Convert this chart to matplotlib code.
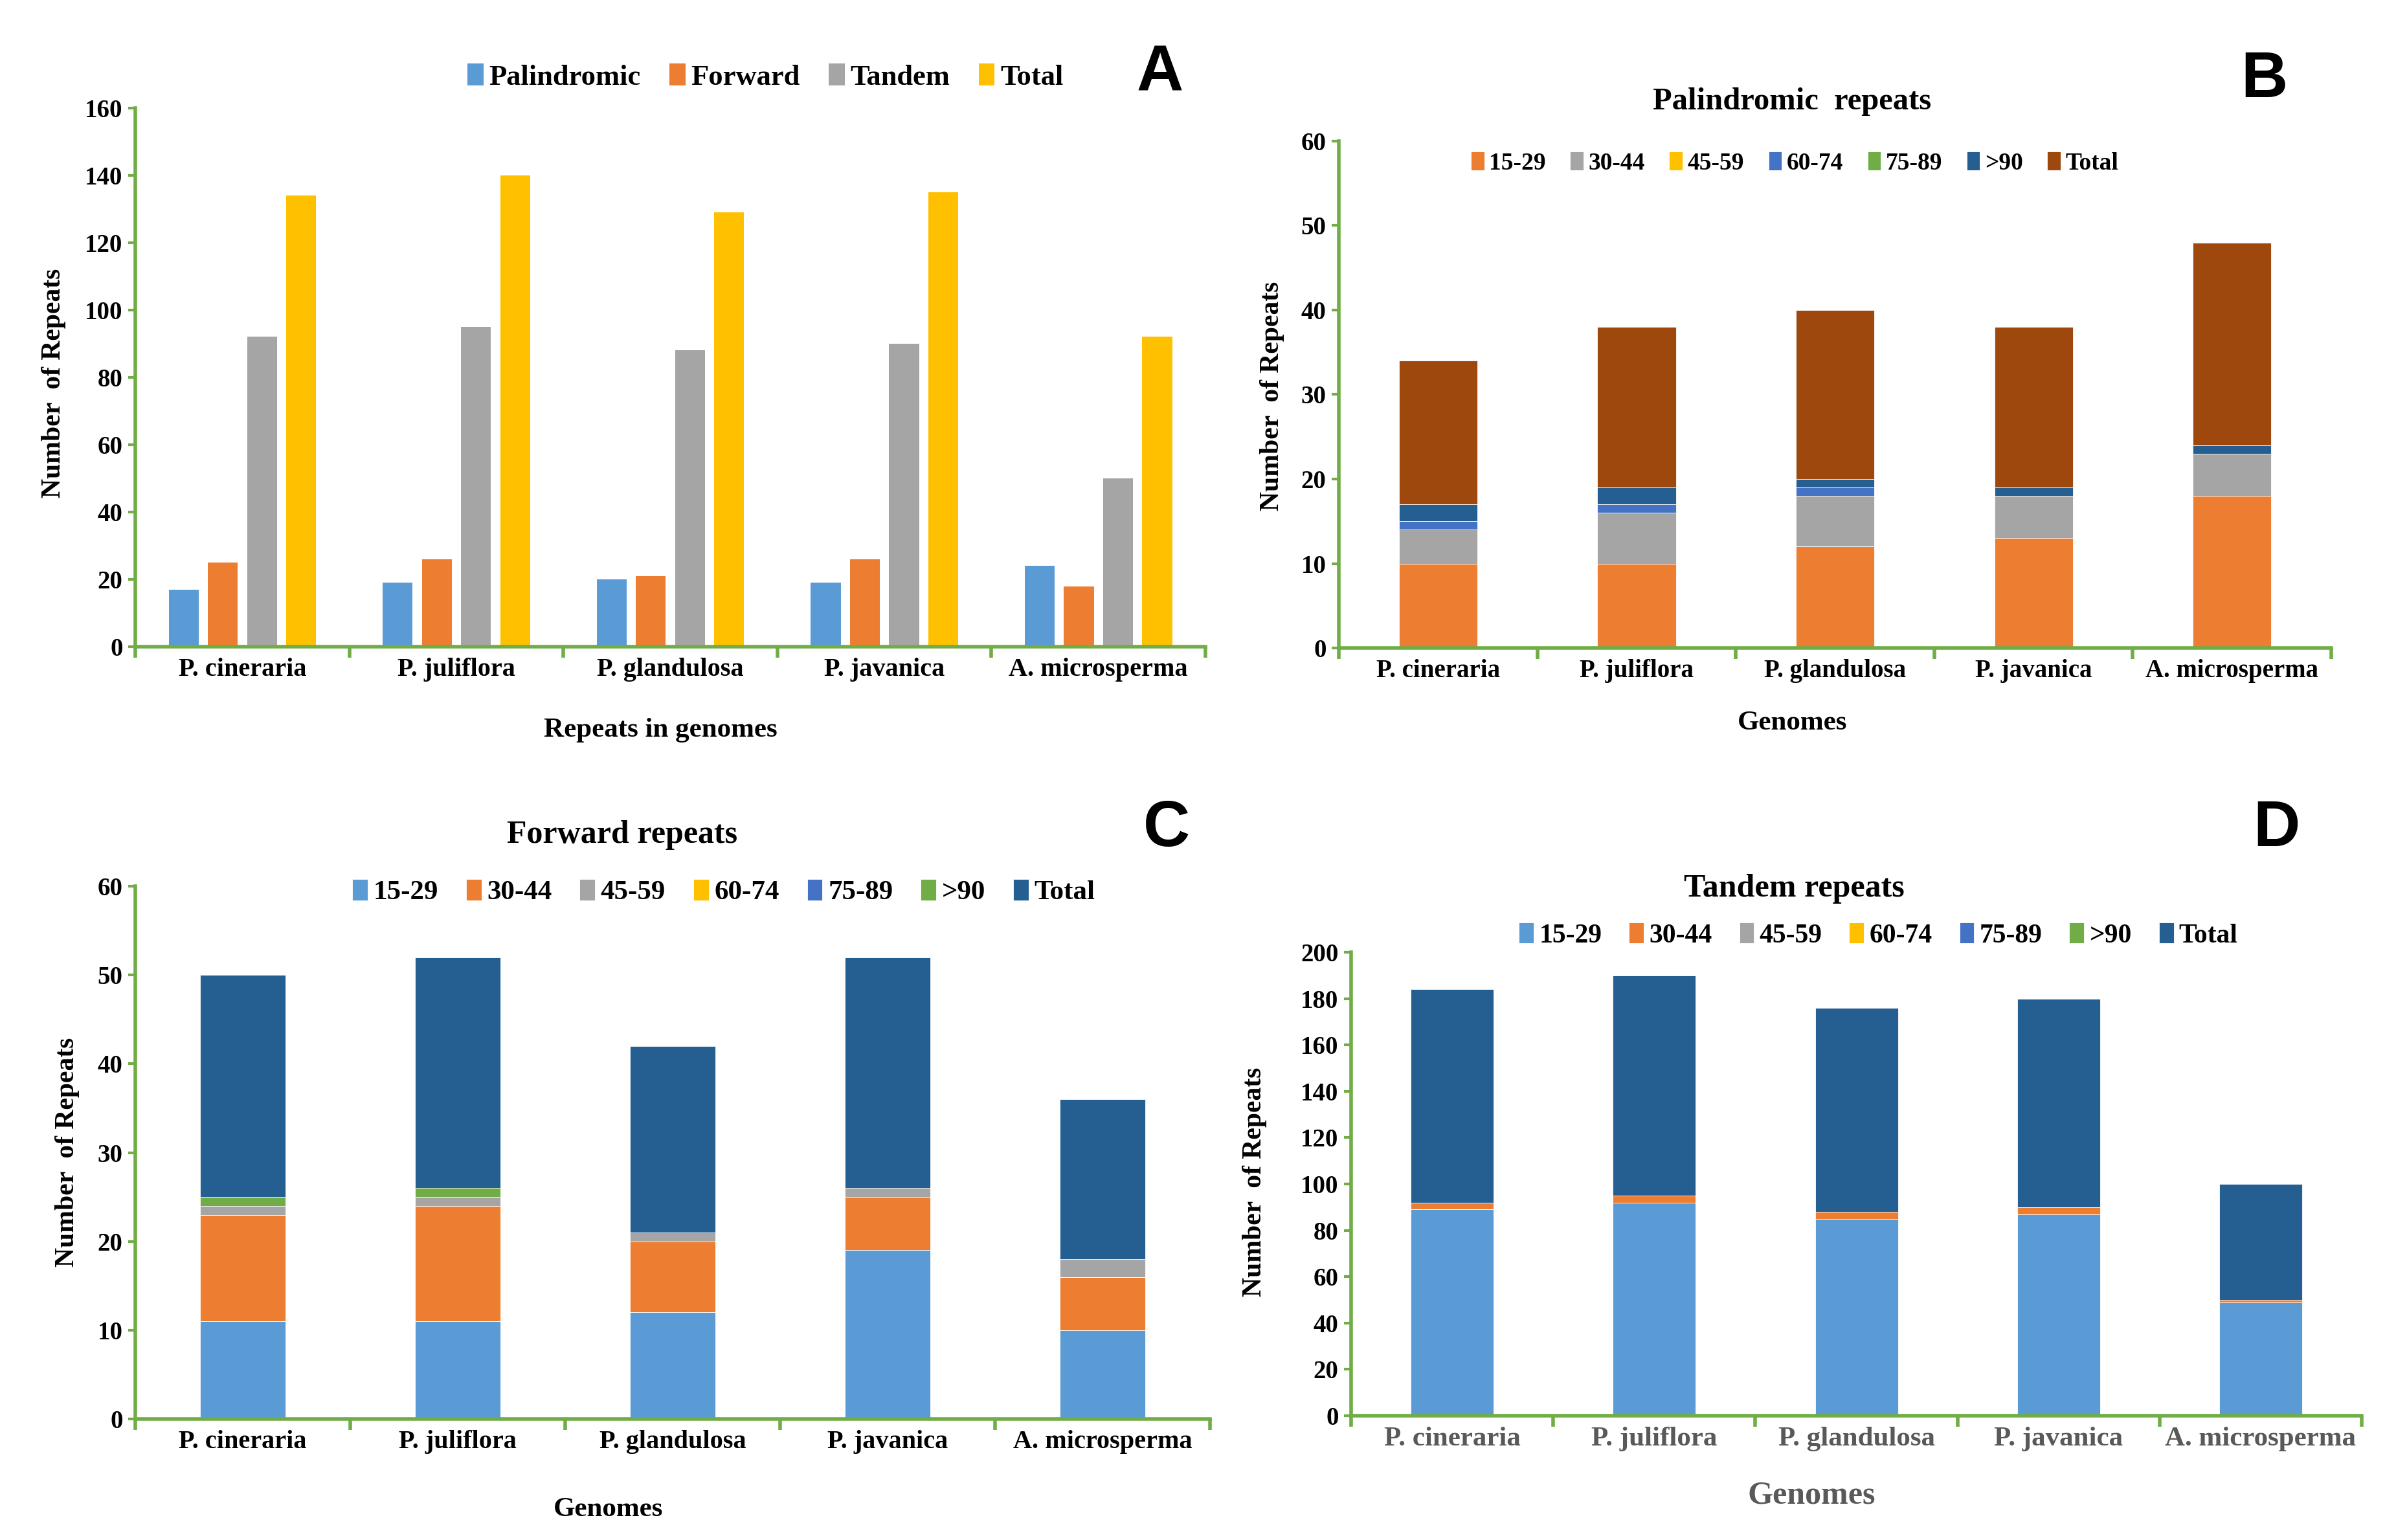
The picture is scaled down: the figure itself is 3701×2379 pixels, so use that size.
import numpy as np
import matplotlib
matplotlib.use("Agg")
import matplotlib.pyplot as plt

plt.rcParams['font.family'] = ['Liberation Serif', 'DejaVu Serif']
plt.rcParams['font.weight'] = 'bold'

# data
genomes = ['P. cineraria', 'P. juliflora', 'P. glandulosa', 'P. javanica', 'A. microsperma']

# panel A
palindromic = [17, 19, 20, 19, 24]
forward = [25, 26, 21, 26, 18]
tandem = [92, 95, 88, 90, 50]
total = [134, 140, 129, 135, 92]

size_classes = ['15-29', '30-44', '45-59', '60-74', '75-89', '>90', 'Total']

# panel B, palindromic repeats per size class
pal_15_29 = [10, 10, 12, 13, 18]
pal_30_44 = [4, 6, 6, 5, 5]
pal_45_59 = [0, 0, 0, 0, 0]
pal_60_74 = [1, 1, 1, 0, 0]
pal_75_89 = [0, 0, 0, 0, 0]
pal_90 = [2, 2, 1, 1, 1]
pal_total = [17, 19, 20, 19, 24]

# panel C, forward repeats
fwd_15_29 = [11, 11, 12, 19, 10]
fwd_30_44 = [12, 13, 8, 6, 6]
fwd_45_59 = [1, 1, 1, 1, 2]
fwd_60_74 = [0, 0, 0, 0, 0]
fwd_75_89 = [0, 0, 0, 0, 0]
fwd_90 = [1, 1, 0, 0, 0]
fwd_total = [25, 26, 21, 26, 18]

# panel D, tandem repeats
tan_15_29 = [89, 92, 85, 87, 49]
tan_30_44 = [3, 3, 3, 3, 1]
tan_45_59 = [0, 0, 0, 0, 0]
tan_60_74 = [0, 0, 0, 0, 0]
tan_75_89 = [0, 0, 0, 0, 0]
tan_90 = [0, 0, 0, 0, 0]
tan_total = [92, 95, 88, 90, 50]

# office colours
c_blue = '#5B9BD5'
c_orange = '#ED7D31'
c_gray = '#A5A5A5'
c_gold = '#FFC000'
c_blue2 = '#4472C4'
c_green = '#70AD47'
c_navy = '#255E91'
c_brown = '#9E480E'
spine_green = '#70AD47'

W, H = 3701, 2379
fig = plt.figure(figsize=(W / 100, H / 100), dpi=100)


def style_axes(ax, ymax, ystep, xfs=28, tick_color='black'):
    for s in ['top', 'right']:
        ax.spines[s].set_visible(False)
    for s in ['left', 'bottom']:
        ax.spines[s].set_color(spine_green)
        ax.spines[s].set_linewidth(4)
    ax.set_xlim(-0.5, 4.5)
    ax.set_ylim(0, ymax)
    ax.set_yticks(np.arange(0, ymax + 1, ystep))
    ax.set_xticks(range(5))
    ax.set_xticklabels(genomes, fontsize=xfs, fontweight='bold', color=tick_color)
    ax.set_xticks(np.arange(-0.5, 5, 1), minor=True)
    ax.tick_params(axis='x', which='major', length=0, pad=12)
    ax.tick_params(axis='x', which='minor', length=12, width=4, color=spine_green, direction='out')
    ax.tick_params(axis='y', length=8, width=3, color=spine_green, labelsize=28, pad=6)
    for lab in ax.get_yticklabels():
        lab.set_fontweight('bold')


def stacked(ax, series, colors, width):
    x = np.arange(len(genomes))
    bottom = np.zeros(len(genomes))
    for name, vals, col in zip(size_classes, series, colors):
        ax.bar(x, vals, width, bottom=bottom, color=col, label=name,
               edgecolor='white', linewidth=0.6)
        bottom += np.array(vals)


def add_legend(ax, fx, fy, ncol, fs):
    ax.legend(loc='center', bbox_to_anchor=(fx, fy), bbox_transform=fig.transFigure,
              ncol=ncol, frameon=False, handlelength=0.55, handleheight=0.8,
              handletextpad=0.2, columnspacing=1.0, prop={'weight': 'bold', 'size': fs})


# ---- A: grouped bars
axA = fig.add_axes([0.0565, 0.580, 0.4466, 0.350])
x = np.arange(len(genomes))
bw = 0.14
step = 0.183
for i, (name, vals, col) in enumerate(zip(['Palindromic', 'Forward', 'Tandem', 'Total'],
                                           [palindromic, forward, tandem, total],
                                           [c_blue, c_orange, c_gray, c_gold])):
    axA.bar(x + (i - 1.5) * step, vals, bw, color=col, label=name)
style_axes(axA, 160, 20, xfs=29)
add_legend(axA, 0.3195, 0.950, 4, 32)
fig.text(0.2756, 0.526, 'Repeats in genomes', ha='center', va='center', fontsize=31, fontweight='bold')
fig.text(0.0224, 0.751, 'Number  of Repeats', rotation=90, ha='center', va='center', fontsize=30, fontweight='bold')
fig.text(0.484, 0.952, 'A', ha='center', va='center', fontsize=72, fontweight='bold', family='Liberation Sans')

# ---- B: palindromic
axB = fig.add_axes([0.5588, 0.5792, 0.4142, 0.3292])
stacked(axB, [pal_15_29, pal_30_44, pal_45_59, pal_60_74, pal_75_89, pal_90, pal_total],
        [c_orange, c_gray, c_gold, c_blue2, c_green, c_navy, c_brown], 0.395)
style_axes(axB, 60, 10, xfs=28)
add_legend(axB, 0.749, 0.894, 7, 27)
fig.text(0.748, 0.934, 'Palindromic  repeats', ha='center', va='center', fontsize=35, fontweight='bold')
fig.text(0.748, 0.5305, 'Genomes', ha='center', va='center', fontsize=31, fontweight='bold')
fig.text(0.531, 0.743, 'Number  of Repeats', rotation=90, ha='center', va='center', fontsize=30, fontweight='bold')
fig.text(0.945, 0.948, 'B', ha='center', va='center', fontsize=72, fontweight='bold', family='Liberation Sans')

# ---- C: forward
axC = fig.add_axes([0.0565, 0.0786, 0.4485, 0.3459])
stacked(axC, [fwd_15_29, fwd_30_44, fwd_45_59, fwd_60_74, fwd_75_89, fwd_90, fwd_total],
        [c_blue, c_orange, c_gray, c_gold, c_blue2, c_green, c_navy], 0.40)
style_axes(axC, 60, 10, xfs=29)
add_legend(axC, 0.302, 0.4207, 7, 31)
fig.text(0.2597, 0.4578, 'Forward repeats', ha='center', va='center', fontsize=36, fontweight='bold')
fig.text(0.2538, 0.0198, 'Genomes', ha='center', va='center', fontsize=31, fontweight='bold')
fig.text(0.028, 0.252, 'Number  of Repeats', rotation=90, ha='center', va='center', fontsize=30, fontweight='bold')
fig.text(0.487, 0.4615, 'C', ha='center', va='center', fontsize=72, fontweight='bold', family='Liberation Sans')

# ---- D: tandem
axD = fig.add_axes([0.5639, 0.0807, 0.4218, 0.3010])
stacked(axD, [tan_15_29, tan_30_44, tan_45_59, tan_60_74, tan_75_89, tan_90, tan_total],
        [c_blue, c_orange, c_gray, c_gold, c_blue2, c_green, c_navy], 0.41)
style_axes(axD, 200, 20, xfs=31, tick_color='#595959')
add_legend(axD, 0.784, 0.3926, 7, 30)
fig.text(0.7487, 0.4229, 'Tandem repeats', ha='center', va='center', fontsize=36, fontweight='bold')
fig.text(0.756, 0.029, 'Genomes', ha='center', va='center', fontsize=36, fontweight='bold', color='#595959')
fig.text(0.5236, 0.2323, 'Number  of Repeats', rotation=90, ha='center', va='center', fontsize=30, fontweight='bold')
fig.text(0.950, 0.4615, 'D', ha='center', va='center', fontsize=72, fontweight='bold', family='Liberation Sans')

fig.savefig('out.png', dpi=100, facecolor='white')
